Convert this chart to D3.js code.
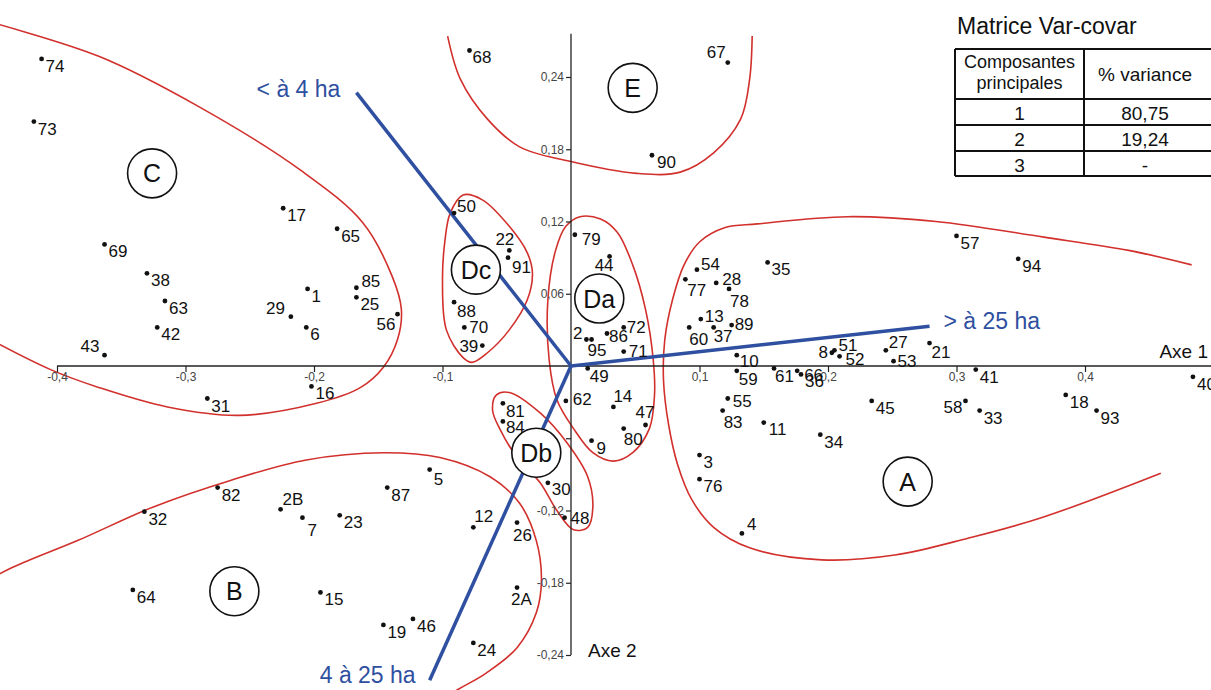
<!DOCTYPE html>
<html>
<head>
<meta charset="utf-8">
<script src="https://cdn.jsdelivr.net/npm/d3@7"></script>
<style>
  body { margin: 0; background: #fff; }
  text { font-family: "Liberation Sans", Arial, sans-serif; }
</style>
</head>
<body>
<div id="chart"></div>
<script>
const width = 1211, height = 690;

// axis ticks
const xTicks = [-0.4, -0.3, -0.2, -0.1, 0.1, 0.2, 0.3, 0.4];
const yTicks = [0.24, 0.18, 0.12, 0.06, -0.06, -0.12, -0.18, -0.24];

// individuals : [id, axe 1, axe 2]
const groupA = [
  ['57', 0.300, 0.108], ['94', 0.348, 0.089], ['54', 0.098, 0.080], ['77', 0.089, 0.072],
  ['28', 0.113, 0.069], ['78', 0.123, 0.064], ['35', 0.153, 0.086], ['13', 0.101, 0.039],
  ['60', 0.092, 0.032], ['37', 0.111, 0.032], ['89', 0.125, 0.034], ['10', 0.129, 0.009],
  ['8', 0.203, 0.011], ['51', 0.205, 0.013], ['52', 0.209, 0.008], ['27', 0.245, 0.013],
  ['53', 0.251, 0.004], ['21', 0.279, 0.019], ['41', 0.315, -0.003], ['59', 0.129, -0.004],
  ['61', 0.158, -0.002], ['66', 0.176, -0.004], ['36', 0.179, -0.007], ['40', 0.484, -0.009],
  ['55', 0.122, -0.027], ['83', 0.118, -0.037], ['11', 0.150, -0.047], ['34', 0.194, -0.057],
  ['45', 0.234, -0.029], ['58', 0.307, -0.029], ['33', 0.318, -0.037], ['18', 0.385, -0.024],
  ['93', 0.409, -0.037], ['3', 0.100, -0.074], ['76', 0.100, -0.094], ['4', 0.133, -0.139]
];
const groupB = [
  ['5', -0.110, -0.086], ['12', -0.076, -0.134], ['26', -0.042, -0.130], ['82', -0.275, -0.101],
  ['2B', -0.226, -0.119], ['7', -0.209, -0.126], ['23', -0.180, -0.124], ['87', -0.143, -0.101],
  ['32', -0.332, -0.121], ['64', -0.341, -0.186], ['15', -0.195, -0.188], ['19', -0.146, -0.215],
  ['46', -0.123, -0.210], ['24', -0.076, -0.230], ['2A', -0.042, -0.184]
];
const groupC = [
  ['74', -0.412, 0.255], ['73', -0.418, 0.203], ['17', -0.224, 0.131], ['65', -0.182, 0.114],
  ['69', -0.363, 0.101], ['38', -0.330, 0.077], ['63', -0.316, 0.054], ['42', -0.322, 0.032],
  ['43', -0.363, 0.009], ['85', -0.167, 0.065], ['25', -0.167, 0.057], ['1', -0.205, 0.064],
  ['29', -0.218, 0.041], ['6', -0.206, 0.032], ['56', -0.135, 0.043], ['16', -0.202, -0.017],
  ['31', -0.283, -0.027]
];
const groupDa = [
  ['79', 0.003, 0.109], ['44', 0.030, 0.091], ['2', 0.012, 0.022], ['95', 0.016, 0.022],
  ['86', 0.028, 0.027], ['72', 0.041, 0.032], ['71', 0.041, 0.012], ['49', 0.013, -0.002],
  ['62', -0.004, -0.029], ['14', 0.033, -0.034], ['47', 0.058, -0.049], ['80', 0.041, -0.052],
  ['9', 0.016, -0.062]
];
const groupDb = [
  ['81', -0.053, -0.031], ['84', -0.053, -0.046], ['30', -0.018, -0.097], ['48', -0.005, -0.126]
];
const groupDc = [
  ['50', -0.091, 0.127], ['22', -0.048, 0.096], ['91', -0.049, 0.090],
  ['88', -0.091, 0.053], ['70', -0.083, 0.032], ['39', -0.069, 0.017]
];
const groupE = [
  ['68', -0.079, 0.262], ['67', 0.122, 0.252], ['90', 0.063, 0.175]
];

// group outlines (axe 1, axe 2)
const hullA = [[0.483,0.084],[0.434,0.096],[0.368,0.107],[0.284,0.120],[0.215,0.124],[0.145,0.118],
  [0.120,0.115],[0.100,0.103],[0.088,0.084],[0.079,0.055],[0.073,0.022],[0.072,-0.012],[0.076,-0.049],
  [0.083,-0.082],[0.094,-0.111],[0.111,-0.134],[0.139,-0.151],[0.195,-0.161],[0.252,-0.157],
  [0.309,-0.143],[0.366,-0.126],[0.459,-0.089]];
const hullB = [[-0.468,-0.186],[-0.434,-0.167],[-0.384,-0.145],[-0.325,-0.117],[-0.265,-0.095],
  [-0.206,-0.078],[-0.146,-0.072],[-0.102,-0.076],[-0.063,-0.092],[-0.040,-0.114],[-0.027,-0.145],
  [-0.023,-0.178],[-0.027,-0.205],[-0.042,-0.234],[-0.066,-0.255],[-0.087,-0.268],[-0.110,-0.282]];
const hullC = [[-0.460,0.288],[-0.367,0.257],[-0.289,0.215],[-0.211,0.163],[-0.162,0.119],
  [-0.139,0.074],[-0.132,0.047],[-0.135,0.022],[-0.146,-0.001],[-0.164,-0.018],[-0.198,-0.031],
  [-0.258,-0.041],[-0.314,-0.034],[-0.367,-0.018],[-0.405,-0.003],[-0.452,0.022]];
const hullE = [[-0.096,0.274],[-0.086,0.238],[-0.065,0.205],[-0.040,0.182],[-0.001,0.170],
  [0.051,0.160],[0.085,0.161],[0.111,0.177],[0.132,0.205],[0.139,0.238],[0.141,0.274]];
const hullDa = [[0.007,0.124],[0.023,0.122],[0.036,0.111],[0.048,0.084],[0.058,0.047],[0.064,0.005],
  [0.065,-0.024],[0.061,-0.052],[0.048,-0.072],[0.033,-0.079],[0.017,-0.072],[0.002,-0.052],
  [-0.011,-0.028],[-0.017,0.005],[-0.018,0.055],[-0.012,0.096],[-0.004,0.116]];
const hullDb = [[-0.058,-0.024],[-0.061,-0.037],[-0.055,-0.053],[-0.042,-0.076],[-0.024,-0.097],
  [-0.011,-0.120],[0.002,-0.136],[0.013,-0.134],[0.017,-0.117],[0.013,-0.092],[-0.003,-0.064],
  [-0.024,-0.039],[-0.048,-0.022]];
const hullDc = [[-0.084,0.142],[-0.069,0.138],[-0.048,0.116],[-0.034,0.094],[-0.030,0.077],
  [-0.034,0.055],[-0.048,0.030],[-0.065,0.011],[-0.077,0.003],[-0.084,0.007],[-0.097,0.030],
  [-0.100,0.072],[-0.098,0.105],[-0.094,0.127]];

// group marks
const groupNames = ['A', 'B', 'C', 'Da', 'Db', 'Dc', 'E'];
const groupCx = [0.262, -0.262, -0.326, 0.022, -0.027, -0.074, 0.048];
const groupCy = [-0.096, -0.187, 0.160, 0.056, -0.072, 0.080, 0.231];

// variable vectors
const vectorNames = ['< à 4 ha', '> à 25 ha', '4 à 25 ha'];
const vectorX = [-0.167, 0.279, -0.110];
const vectorY = [0.227, 0.033, -0.261];

// variance table
const compNames = ['1', '2', '3'];
const compVariance = ['80,75', '19,24', '-'];

// label placement [dx, dy, anchor]
const labelPos = {
  '85':[5,-1],'29':[-6,-3,'end'],'43':[-5,-3,'end'],'56':[-2,16,'end'],'50':[3,-1],
  '22':[5,-5,'end'],'91':[4,15],'88':[3,15],'70':[5,6],'39':[-4,6,'end'],'79':[7,10],
  '44':[4,15,'end'],'2':[-4,-1,'end'],'95':[-4,16],'86':[2,9],'72':[3,6],'71':[5,5],
  '49':[2,14],'62':[7,4],'14':[0,-5],'47':[-10,-7],'80':[0,16],'9':[5,13],'81':[3,14],
  '84':[3,12],'30':[4,12],'48':[6,6],'5':[4,15],'12':[1,-5],'26':[-4,18],'7':[5,18],
  '2B':[2,-4],'2A':[-6,17],'68':[3,12],'67':[-2,-5,'end'],'90':[5,13],'54':[4,0],
  '77':[2,17],'28':[6,2],'78':[1,18],'13':[4,3],'60':[0,18],'37':[0,15],'89':[3,5],
  '10':[3,12],'8':[-4,5,'end'],'51':[4,1],'52':[6,9],'27':[3,-2],'53':[4,6],'21':[2,15],
  '41':[4,13],'59':[2,14],'61':[1,14],'66':[7,10],'36':[4,13],'55':[5,8],'83':[1,17],
  '11':[5,12],'58':[-3,12,'end'],'4':[5,-3]
};

const red = '#d1302c', blue = '#2f50a0';

const svg = d3.select('#chart').append('svg')
  .attr('width', width).attr('height', height)
  .style('background', '#fff');

const x = d3.scaleLinear().domain([-0.4, 0.4]).range([57, 1085]);
const y = d3.scaleLinear().domain([-0.24, 0.24]).range([655, 77]);

// -0,06 sits under the Db mark in the original, so no label there
const comma = d => d === -0.06 ? '' :
  (d < 0 ? '-' : '') + Math.abs(d).toFixed(String(d).split('.')[1].length).replace('.', ',');

// outlines
const openLine = d3.line().x(d => x(d[0])).y(d => y(d[1])).curve(d3.curveCatmullRom.alpha(0.5));
const closedLine = d3.line().x(d => x(d[0])).y(d => y(d[1])).curve(d3.curveCatmullRomClosed.alpha(0.5));
[hullA, hullB, hullC, hullE].forEach(h => {
  svg.append('path').attr('d', openLine(h))
    .attr('fill', 'none').attr('stroke', red).attr('stroke-width', 1.6);
});
[hullDa, hullDb, hullDc].forEach(h => {
  svg.append('path').attr('d', closedLine(h))
    .attr('fill', 'none').attr('stroke', red).attr('stroke-width', 1.6);
});

// axes
const xAxis = svg.append('g')
  .attr('transform', `translate(0,${y(0)})`)
  .call(d3.axisBottom(x).tickValues(xTicks).tickFormat(comma).tickSizeInner(6).tickSizeOuter(0).tickPadding(0));
xAxis.select('.domain').remove();
const yAxis = svg.append('g')
  .attr('transform', `translate(${x(0)},0)`)
  .call(d3.axisLeft(y).tickValues(yTicks).tickFormat(comma).tickSizeInner(5).tickSizeOuter(0).tickPadding(2));
yAxis.select('.domain').remove();
[xAxis, yAxis].forEach(g => {
  g.selectAll('line').attr('stroke', '#222').attr('stroke-width', 1.2);
  g.selectAll('text').attr('fill', '#444').style('font-size', '12px')
    .style('font-family', '"Liberation Sans", Arial, sans-serif');
});

svg.append('line')
  .attr('x1', x(-0.4)).attr('x2', x(0.5)).attr('y1', y(0)).attr('y2', y(0))
  .attr('stroke', '#222').attr('stroke-width', 1.3);
svg.append('line')
  .attr('x1', x(0)).attr('x2', x(0)).attr('y1', y(0.276)).attr('y2', y(-0.24))
  .attr('stroke', '#222').attr('stroke-width', 1.3);

svg.append('text').attr('x', 1208).attr('y', y(0) - 8).attr('text-anchor', 'end')
  .style('font-size', '19px').attr('fill', '#111').text('Axe 1');
svg.append('text').attr('x', x(0) + 17).attr('y', y(-0.24) + 2)
  .style('font-size', '19px').attr('fill', '#111').text('Axe 2');

// vectors
const vecLabel = [[-16, 4, 'end'], [14, 3, 'start'], [-14, 3, 'end']];
vectorNames.forEach((name, i) => {
  svg.append('line')
    .attr('x1', x(0)).attr('y1', y(0)).attr('x2', x(vectorX[i])).attr('y2', y(vectorY[i]))
    .attr('stroke', blue).attr('stroke-width', 3.5);
  svg.append('text')
    .attr('x', x(vectorX[i]) + vecLabel[i][0]).attr('y', y(vectorY[i]) + vecLabel[i][1])
    .attr('text-anchor', vecLabel[i][2])
    .attr('fill', blue).style('font-size', '23px').text(name);
});

// individuals
const allPoints = [].concat(groupA, groupB, groupC, groupDa, groupDb, groupDc, groupE);
const pts = svg.append('g');
pts.selectAll('circle').data(allPoints).join('circle')
  .attr('cx', d => x(d[1])).attr('cy', d => y(d[2])).attr('r', 2.4).attr('fill', '#111');
pts.selectAll('text').data(allPoints).join('text')
  .attr('x', d => x(d[1]) + (labelPos[d[0]] ? labelPos[d[0]][0] : 4))
  .attr('y', d => y(d[2]) + (labelPos[d[0]] ? labelPos[d[0]][1] : 13))
  .attr('text-anchor', d => (labelPos[d[0]] && labelPos[d[0]][2]) || 'start')
  .attr('fill', '#111').style('font-size', '17px')
  .text(d => d[0]);

// group marks
groupNames.forEach((g, i) => {
  svg.append('circle').attr('cx', x(groupCx[i])).attr('cy', y(groupCy[i])).attr('r', 24.5)
    .attr('fill', '#fff').attr('stroke', '#111').attr('stroke-width', 1.6);
  svg.append('text').attr('x', x(groupCx[i])).attr('y', y(groupCy[i]) + 9)
    .attr('text-anchor', 'middle').attr('fill', '#111')
    .style('font-size', '25px').text(g);
});

// table
const tab = svg.append('g');
tab.append('text').attr('x', 957).attr('y', 34).style('font-size', '23px').attr('fill', '#111')
  .text('Matrice Var-covar');
const tx0 = 955, tx1 = 1084, tx2 = 1216;
const rowY = [49, 99, 125, 151, 176];
rowY.forEach(ry => {
  tab.append('line').attr('x1', tx0).attr('x2', tx2).attr('y1', ry).attr('y2', ry)
    .attr('stroke', '#111').attr('stroke-width', 2);
});
[tx0, tx1].forEach(cx => {
  tab.append('line').attr('x1', cx).attr('x2', cx).attr('y1', rowY[0]).attr('y2', rowY[4])
    .attr('stroke', '#111').attr('stroke-width', 2);
});
const c1 = (tx0 + tx1) / 2, c2 = 1145;
tab.append('text').attr('x', c1).attr('y', 68).attr('text-anchor', 'middle').style('font-size', '18px').text('Composantes');
tab.append('text').attr('x', c1).attr('y', 89).attr('text-anchor', 'middle').style('font-size', '18px').text('principales');
tab.append('text').attr('x', c2).attr('y', 81).attr('text-anchor', 'middle').style('font-size', '19px').text('% variance');
compNames.forEach((c, i) => {
  tab.append('text').attr('x', c1).attr('y', rowY[i + 1] + 21).attr('text-anchor', 'middle')
    .style('font-size', '19px').text(c);
  tab.append('text').attr('x', c2).attr('y', rowY[i + 1] + 21).attr('text-anchor', 'middle')
    .style('font-size', '19px').text(compVariance[i]);
});
tab.selectAll('text').attr('fill', '#111');
</script>
</body>
</html>
